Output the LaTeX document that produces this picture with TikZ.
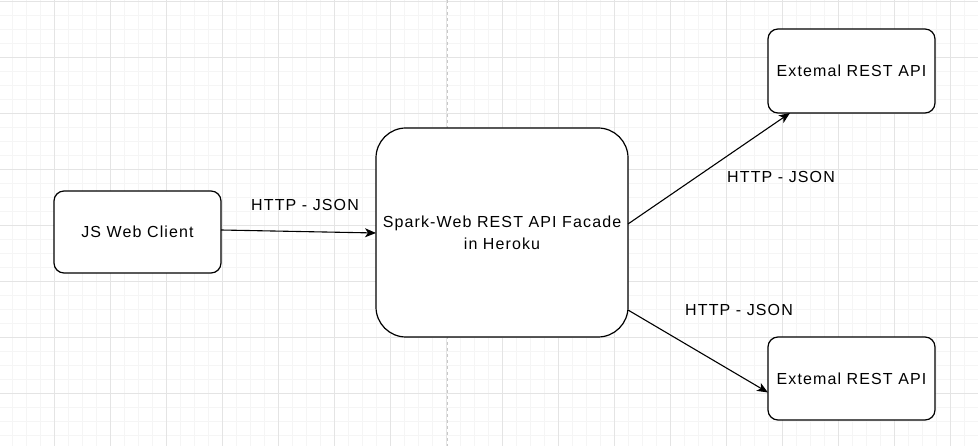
\documentclass[tikz,border=0pt]{standalone}
\usepackage{fontspec}
\setmainfont[LetterSpace=7]{Liberation Sans}
\usetikzlibrary{arrows.meta,calc}
\definecolor{gridmajor}{HTML}{E4E4E4}
\definecolor{gridminor}{HTML}{F5F5F5}
\definecolor{pageline}{HTML}{C8C8C8}
\tikzset{
  box/.style={draw=black, line width=1.2pt, fill=white, rounded corners=10pt, outer sep=0pt, inner sep=0pt, align=center},
  lbl/.style={font=\fontsize{16}{22}\selectfont, text=black},
  conn/.style={line width=1.1pt, -{Stealth[length=11pt,width=9pt,inset=3pt]}},
}
\begin{document}
\begin{tikzpicture}[x=1pt,y=-1pt]
\useasboundingbox (0,0) rectangle (978,446);
\fill[white] (0,0) rectangle (978,446);
% grid
\begin{scope}
\clip (0,0) rectangle (978,446);
\foreach \i in {0,...,71} {
  \draw[gridminor, line width=0.8pt] ({-2+14*\i},0) -- ({-2+14*\i},446);
}
\foreach \i in {0,...,32} {
  \draw[gridminor, line width=0.8pt] (0,{1+14*\i}) -- (978,{1+14*\i});
}
\foreach \i in {0,...,18} {
  \draw[gridmajor, line width=0.8pt] ({-2+56*\i},0) -- ({-2+56*\i},446);
}
\foreach \i in {0,...,8} {
  \draw[gridmajor, line width=0.8pt] (0,{1+56*\i}) -- (978,{1+56*\i});
}
\draw[pageline, line width=0.8pt, dash pattern=on 3pt off 3pt] (447,0) -- (447,446);
\end{scope}
% nodes
\node[box, minimum width=167pt, minimum height=82pt, lbl] (js) at (137.5,232) {JS Web Client};
\node[box, rounded corners=30pt, minimum width=252pt, minimum height=209pt, lbl] (spark) at (502,232.5) {Spark-Web REST API Facade\\in Heroku};
\node[box, minimum width=167pt, minimum height=84pt, lbl] (ext1) at (851.5,71) {Extemal REST API};
\node[box, minimum width=167pt, minimum height=83pt, lbl] (ext2) at (851.5,378.5) {Extemal REST API};
% connectors
\coordinate (a1) at ($(js.east)+(0,-2)$);
\coordinate (a2) at ($(spark.west)+(0,0.5)$);
\draw[conn] (a1) -- (a2);
\coordinate (b1) at ($(spark.east)+(0,-8.5)$);
\coordinate (b2) at ($(ext1.south west)+(22,0)$);
\draw[conn] (b1) -- (b2);
\coordinate (c1) at ($(spark.east)+(0,77.5)$);
\coordinate (c2) at ($(ext2.west)+(0,14)$);
\draw[conn] (c1) -- (c2);
% labels
\node[lbl] (l1) at (305,205) {HTTP - JSON};
\node[lbl] (l2) at (781,177) {HTTP - JSON};
\node[lbl] (l3) at (739,310) {HTTP - JSON};
\end{tikzpicture}
\end{document}
